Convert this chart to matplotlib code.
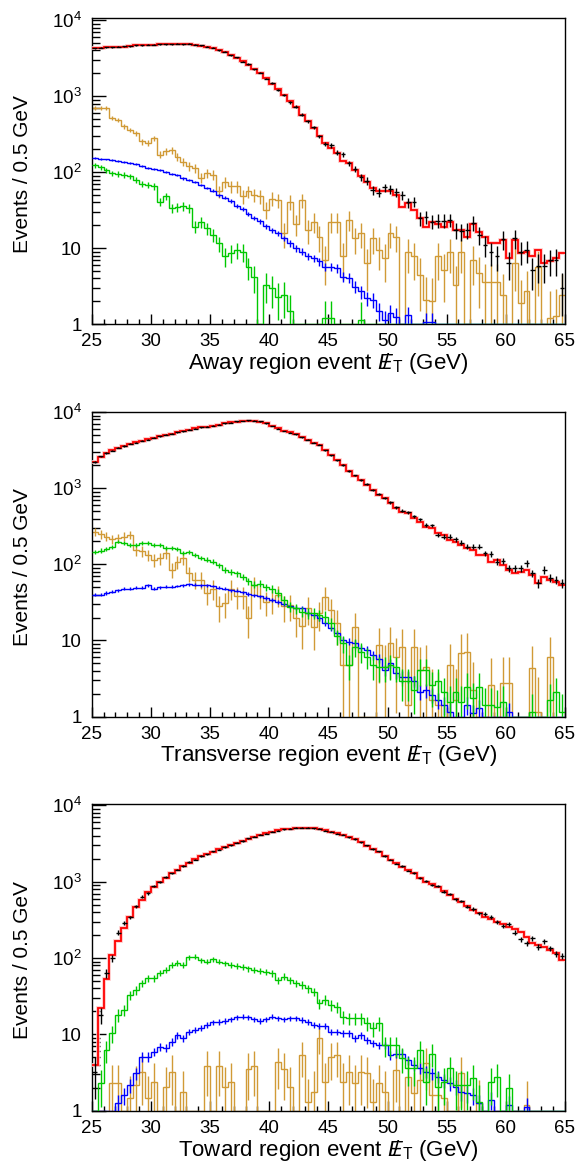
import numpy as np
import matplotlib
matplotlib.use("Agg")
import matplotlib.pyplot as plt
from matplotlib.ticker import MultipleLocator, LogLocator, FixedLocator, FixedFormatter, NullFormatter

plt.rcParams['font.family'] = ['Liberation Sans', 'DejaVu Sans']
plt.rcParams['mathtext.fontset'] = 'custom'
plt.rcParams['mathtext.rm'] = 'Liberation Sans'
plt.rcParams['mathtext.it'] = 'Liberation Sans:italic'

# binning: 0.5 GeV bins from 25 to 65 GeV
x_min, x_max, bin_width = 25.0, 65.0, 0.5

y_ticks = [1, 10, 100, 1000, 10000]
y_tick_labels = ['1', '10', r'$10^2$', r'$10^3$', r'$10^4$']

met = r'$E\!\!\!/\,{}_{\rm T}$'
x_labels = ['Away region event ' + met + ' (GeV)',
            'Transverse region event ' + met + ' (GeV)',
            'Toward region event ' + met + ' (GeV)']

# ---------------- Away region ----------------
away_black = [4250, 4330, 4420, 4400, 4470, 4520, 4540, 4680, 4690, 4750,
              4740, 4800, 4830, 4810, 4880, 4850, 4870, 4720, 4650, 4450,
              4330, 4020, 3830, 3450, 3250, 2850, 2650, 2250, 2050, 1700,
              1480, 1200, 1050, 830, 730, 570, 465, 390, 295, 237,
              225, 181, 174, 131, 110, 86, 77, 58, 54, 63,
              60, 55, 49.5, 40, 41, 24.8, 26, 22.4, 23, 23,
              23.6, 17.4, 16.6, 17.4, 21.7, 15, 11, 8.8, 7.9, 13.1,
              6.3, 13.5, 9, 9.5, 5.1, 5.9, 5.9, 6.9, 7, 3]
away_red = [4300, 4350, 4400, 4420, 4450, 4500, 4560, 4650, 4700, 4730,
            4760, 4790, 4810, 4830, 4860, 4870, 4850, 4750, 4620, 4480,
            4300, 4050, 3800, 3500, 3200, 2900, 2600, 2300, 2000, 1720,
            1450, 1250, 1030, 860, 720, 570, 470, 385, 300, 245,
            210, 180, 140, 132, 108, 88, 75, 62, 56, 56,
            56, 50, 35, 39, 32, 25, 19, 22, 21, 19,
            22, 17.4, 17.4, 14.2, 21, 16.5, 14.2, 11.6, 11.6, 12.8,
            7.4, 12.8, 8.6, 9, 7.8, 9.5, 6.3, 6.7, 7.4, 8.6]
away_orange = [695, 695, 695, 515, 490, 400, 360, 325, 254, 240,
               280, 170, 188, 196, 160, 138, 119, 113, 85, 97,
               92, 56, 75, 65, 65, 48, 56, 50, 48, 32,
               45, 43, 15.8, 41, 21, 43, 17.4, 22.4, 14.2, 7,
               22.4, 22.4, 7.8, 23.6, 13.5, 15.8, 6.3, 13.5, 9.5, 7.4,
               15.8, 14.2, 0, 9, 7.8, 4.5, 2.1, 2, 7.8, 5.2,
               9, 3.3, 9, 0, 7, 4.7, 3.6, 3.6, 3.6, 2.4,
               0, 6.3, 1.9, 2.7, 0, 5.7, 0, 1.2, 1.3, 2.4]
away_blue = [153, 150, 147, 144, 140, 136, 132, 128, 122, 115,
             111, 106, 100, 96, 91, 83, 79, 74, 68, 62,
             57, 50, 46, 42, 36, 33, 28, 25, 22.5, 19.5,
             17.4, 15.8, 13.5, 11.6, 10, 9, 7.8, 7.4, 6.7, 5.7,
             5.7, 5.5, 4.2, 4.1, 3.1, 2.7, 2.2, 2.1, 1.5, 1.14,
             1.4, 1.26, 0, 1.33, 0, 0, 1.08, 1.08, 0, 0,
             0, 0, 0, 0, 0, 0, 0, 0, 0, 0,
             0, 0, 0, 0, 0, 0, 0, 0, 0, 0]
away_green = [123, 116, 107, 97, 95, 92, 88, 79, 71, 68,
              65, 41, 48, 33.5, 35, 36, 33.5, 19.3, 22.4, 18.3,
              15, 11.6, 7.8, 8.6, 9.5, 9, 5.7, 4.2, 0, 3.3,
              3.0, 2.3, 2.4, 1.5, 0, 0, 0, 0, 0, 1.2,
              1.2, 0, 0, 0, 0, 1.15, 0, 0, 0, 0,
              0, 0, 0, 0, 0, 0, 0, 0, 0, 0,
              0, 0, 0, 0, 0, 0, 0, 0, 0, 0,
              0, 0, 0, 0, 0, 0, 0, 0, 0, 0]

# ---------------- Transverse region ----------------
trans_black = [2200, 2620, 2900, 3120, 3400, 3580, 3830, 3980, 4230, 4350,
               4580, 4780, 5060, 5180, 5430, 5620, 5900, 6080, 6330, 6420,
               6650, 6820, 7120, 7280, 7540, 7620, 7780, 7680, 7540, 7150,
               6550, 6080, 5640, 5380, 5130, 4680, 4330, 3930, 3720, 3130,
               2720, 2330, 2020, 1690, 1470, 1270, 1130, 950, 840, 750,
               650, 565, 505, 480, 430, 392, 330, 324, 244, 232,
               232, 214, 193, 171, 171, 171, 140, 136, 109, 111,
               89, 89, 89, 103, 76, 56.5, 85, 66, 62.5, 56.5]
trans_red = [2240, 2600, 2880, 3150, 3370, 3600, 3800, 4000, 4200, 4380,
             4540, 4800, 5030, 5200, 5400, 5650, 5870, 6100, 6300, 6450,
             6620, 6850, 7090, 7300, 7500, 7650, 7750, 7700, 7500, 7200,
             6500, 6100, 5600, 5400, 5100, 4700, 4300, 3950, 3700, 3150,
             2700, 2350, 2000, 1700, 1450, 1280, 1110, 960, 820, 740,
             640, 550, 494, 470, 404, 365, 314, 298, 257, 244,
             210, 199, 180, 163, 155, 133, 133, 109, 114, 98,
             85, 76, 80, 85, 73, 56.5, 69, 62.5, 59, 54]
trans_orange = [270, 250, 232, 214, 220, 232, 245, 155, 150, 133,
                114, 120, 140, 85, 109, 120, 76, 63, 63, 42,
                48, 28, 31, 48, 38, 38, 19.5, 53, 38, 32.5,
                34, 40, 28, 29, 20, 15.5, 26.5, 15.2, 22.7, 37.7,
                25.3, 16.8, 4.8, 4.8, 15.2, 0, 0, 0, 8.7, 4.5,
                9.2, 6, 8.3, 1.42, 8.3, 4.1, 4.5, 1.65, 1.42, 0,
                4.76, 1.65, 6.8, 7.1, 2.24, 0, 0, 2.6, 0, 2.74,
                2.74, 0, 0, 0, 4.3, 1.16, 0, 6.1, 0, 0]
trans_blue = [40, 40, 42, 44, 46, 48, 48, 49, 49, 53,
              48, 50, 51, 51, 52, 53, 55, 54, 53, 53,
              52, 49, 48, 46, 45, 43, 41, 39, 38, 36,
              34, 32, 30, 28, 26.5, 26.5, 22.7, 21.6, 19.5, 16.8,
              14.5, 12.4, 10.2, 9.7, 9.2, 7.9, 7.5, 6.4, 5.8, 4.1,
              5.0, 3.7, 3.35, 3.35, 2.9, 2.13, 2.24, 1.93, 1.65, 1.42,
              1.16, 0, 0, 1.42, 1.1, 1.29, 0, 0, 0, 0,
              1.16, 0, 0, 0, 0, 0, 0, 0, 0, 0]
trans_green = [147, 152, 160, 171, 199, 189, 180, 182, 189, 189,
               180, 180, 165, 163, 160, 140, 147, 133, 122, 115,
               109, 98, 85, 80, 76, 69, 60, 54, 56, 50,
               48, 42, 34, 27.6, 26.5, 24, 22.7, 22.7, 21.6, 20.6,
               16.8, 11.3, 9.2, 4.76, 8.3, 7.1, 6.1, 4.76, 4.5, 4.5,
               4.76, 4.5, 2.9, 2.9, 2.24, 4.1, 4.1, 2.6, 2.9, 2.13,
               1.57, 2.13, 1.57, 2.48, 1.74, 2.48, 1.42, 1.42, 1.35, 1.57,
               0, 0, 0, 0, 1.16, 0, 0, 1.65, 2.13, 1.16]

# ---------------- Toward region ----------------
toward_black = [3.2, 18, 63, 99, 215, 285, 341, 480, 636, 703,
                880, 990, 1140, 1280, 1440, 1600, 1800, 1950, 2160, 2290,
                2490, 2640, 2840, 3000, 3250, 3410, 3680, 3870, 4100, 4270,
                4530, 4680, 4870, 4930, 5070, 5080, 5120, 5030, 4970, 4680,
                4520, 4270, 4100, 3830, 3620, 3280, 2980, 2680, 2490, 2180,
                1950, 1730, 1590, 1400, 1310, 1120, 1020, 910, 880, 740,
                690, 590, 560, 470, 440, 385, 377, 347, 299, 262,
                279, 215, 176, 155, 181, 140, 167, 134, 113, 107]
toward_red = [4.0, 22, 52.6, 109, 169, 245, 348, 470, 575, 740,
              860, 1000, 1120, 1290, 1420, 1620, 1780, 1960, 2140, 2300,
              2470, 2660, 2820, 3010, 3230, 3430, 3660, 3890, 4080, 4290,
              4500, 4700, 4850, 4950, 5050, 5100, 5100, 5050, 4950, 4700,
              4500, 4290, 4080, 3850, 3600, 3300, 2950, 2700, 2470, 2200,
              1930, 1750, 1570, 1420, 1290, 1130, 1000, 920, 860, 750,
              670, 600, 547, 480, 426, 385, 348, 320, 299, 275,
              257, 240, 221, 190, 156, 148, 141, 128, 115, 94]
toward_orange = [0, 0, 0, 2.28, 2.28, 0, 1.45, 2.17, 3.24, 1.45,
                 2.4, 0, 2.06, 3.24, 0, 1.77, 0, 0, 0, 3.8,
                 0, 3.8, 2.06, 2.4, 0, 0, 3.5, 3.8, 0, 0,
                 0, 4.3, 3.5, 2.06, 0, 5.4, 1.3, 1.77, 8.9, 2.4,
                 5.1, 5.4, 2.4, 3.24, 2.28, 3.24, 3.1, 1.3, 2.28, 1.77,
                 0, 3.4, 0, 2.8, 1.69, 2.5, 4.2, 1.6, 1.6, 1.45,
                 0, 0, 3.1, 0, 0, 1.25, 0, 0, 0, 0,
                 0, 0, 0, 1.2, 0, 0, 0, 0, 0, 0]
toward_blue = [0, 0, 0, 0, 1.25, 1.6, 2.17, 3.1, 5.1, 5.1,
               5.9, 6.9, 6.6, 8.0, 9.8, 8.9, 10.8, 11.4, 12, 13.3,
               14.4, 14.6, 15, 15.7, 16.7, 17, 16.7, 15.7, 15, 15.7,
               17, 16.2, 15.7, 16.2, 16.2, 15.4, 14.6, 13.2, 12.8, 12.8,
               10.8, 10.8, 10.3, 10.3, 8.9, 9.8, 8.4, 7.6, 7.2, 7.2,
               5.35, 5.6, 5.6, 4.6, 3.96, 3.6, 3.24, 3.1, 2.8, 2.5,
               2.28, 2.06, 1.77, 1.69, 1.6, 1.25, 0, 1.38, 0, 0,
               1.19, 0, 0, 1.13, 0, 0, 0, 0, 0, 0]
toward_green = [0, 2.28, 6.2, 10.3, 17.9, 20.8, 32.7, 38, 46.6, 54,
                54, 64, 69.7, 81, 87, 81, 102, 104, 94, 90,
                96, 90, 85, 81, 79, 77, 73, 70, 68, 66,
                63, 51, 57, 51, 46.6, 44.3, 40, 36.2, 25.5, 28.2,
                24.3, 23, 17, 16.2, 16.2, 16.2, 13.9, 12, 13.9, 7.2,
                7.2, 7.2, 4.85, 3.6, 3.6, 6.2, 2.4, 5.6, 2.06, 2.4,
                3.6, 2.17, 2.17, 2.17, 2.65, 1.31, 0, 2.4, 2.8, 0,
                1.96, 0, 0, 0, 0, 0, 0, 0, 0, 0]

# per-series event weights used for the statistical error bars
orange_weights = [2.0, 4.0, 1.3]
green_weight = 0.6
blue_weight = 0.1

c_orange = '#d19a36'
c_blue = '#0000ff'
c_green = '#00c800'
c_red = '#ff0000'
c_band = '#ffc4c4'

panels = [
    (away_black, away_red, away_orange, away_blue, away_green),
    (trans_black, trans_red, trans_orange, trans_blue, trans_green),
    (toward_black, toward_red, toward_orange, toward_blue, toward_green),
]
y_tops = [1.06e4, 1.015e4, 1.035e4]
axes_rects = [[0.1562, 0.7212, 0.8063, 0.2631],
              [0.1562, 0.3838, 0.8063, 0.2623],
              [0.1562, 0.0450, 0.8063, 0.2635]]

edges = np.arange(x_min, x_max + bin_width / 2, bin_width)
centers = 0.5 * (edges[1:] + edges[:-1])


def draw_hist(ax, vals, color, weight, lw=1.0, z=2):
    v = np.array(vals, dtype=float)
    # empty bins sit on the axis floor like in the original plot
    ax.stairs(np.where(v > 0, v, 1.0), edges, baseline=None, color=color, lw=lw, zorder=z)
    m = v > 0
    err = np.sqrt(v[m] * weight)
    lo = np.minimum(err, v[m] - 1e-3)
    ax.errorbar(centers[m], v[m], yerr=[lo, err], fmt='none', ecolor=color,
                elinewidth=1.0, zorder=z)


fig = plt.figure(figsize=(5.87, 11.63), dpi=100)
for i, (black, red, orange, blue, green) in enumerate(panels):
    ax = fig.add_axes(axes_rects[i])
    draw_hist(ax, orange, c_orange, orange_weights[i], z=2)
    draw_hist(ax, blue, c_blue, blue_weight, z=3)
    draw_hist(ax, green, c_green, green_weight, z=4)
    r = np.array(red, dtype=float)
    # faint halo around the total (uncertainty band look)
    ax.stairs(r, edges, baseline=None, color=c_band, lw=2.6, zorder=4.5)
    ax.stairs(r, edges, baseline=None, color=c_red, lw=1.3, zorder=5)
    b = np.array(black, dtype=float)
    be = np.sqrt(b)
    ax.errorbar(centers, b, xerr=0.2, yerr=[np.minimum(be, b - 1e-3), be], fmt='none',
                ecolor='black', elinewidth=1.0, zorder=6)

    ax.set_yscale('log')
    ax.set_xlim(x_min, x_max)
    ax.set_ylim(1, y_tops[i])
    ax.xaxis.set_major_locator(MultipleLocator(5))
    ax.xaxis.set_minor_locator(MultipleLocator(1))
    ax.yaxis.set_major_locator(FixedLocator(y_ticks))
    ax.yaxis.set_major_formatter(FixedFormatter(y_tick_labels))
    ax.yaxis.set_minor_locator(LogLocator(base=10, subs=np.arange(2, 10)))
    ax.yaxis.set_minor_formatter(NullFormatter())
    ax.tick_params(which='both', direction='in', top=False, right=False, labelsize=13.5)
    ax.tick_params(axis='x', which='major', length=7.2, width=1, pad=6.5)
    ax.tick_params(axis='x', which='minor', length=3.6, width=1)
    ax.tick_params(axis='y', which='major', length=10, width=1, pad=7)
    ax.tick_params(axis='y', which='minor', length=5.5, width=1)
    for s in ax.spines.values():
        s.set_linewidth(1)
    ax.set_ylabel('Events / 0.5 GeV', fontsize=15)
    ax.yaxis.set_label_coords(-0.127, 0.49)
    ax.set_xlabel(x_labels[i], fontsize=16)
    ax.xaxis.set_label_coords(0.5, -0.088)

fig.savefig('out.png', dpi=100)
